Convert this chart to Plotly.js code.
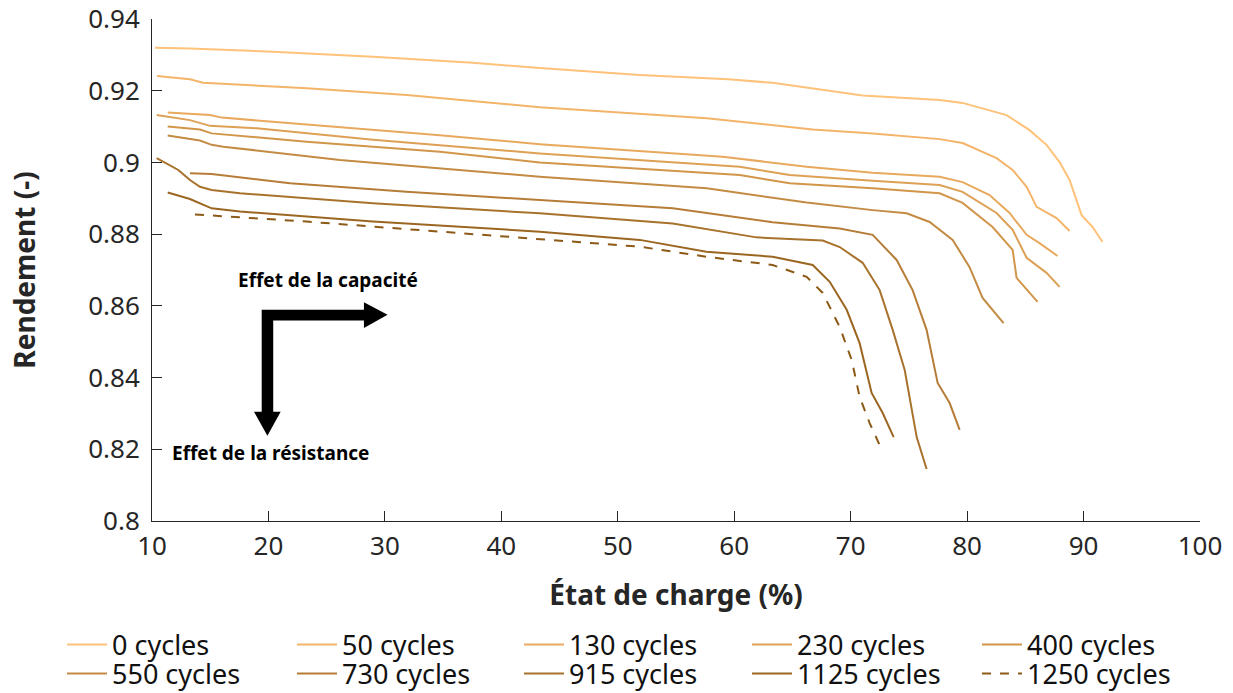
<!DOCTYPE html>
<html>
<head>
<meta charset="utf-8">
<script src="https://cdn.plot.ly/plotly-3.0.1.min.js"></script>
<style>
html,body{margin:0;padding:0;background:#fff;}
#chart{width:1233px;height:693px;}
</style>
</head>
<body>
<div id="chart"></div>
<script>
// Series names
var seriesNames = ["0 cycles","50 cycles","130 cycles","230 cycles","400 cycles","550 cycles","730 cycles","915 cycles","1125 cycles","1250 cycles"];
var seriesColors = ["#FFC27A","#F3B46A","#E8A95F","#DDA055","#D2964A","#C38B43","#B67D38","#A8722C","#9B6622","#8C5A16"];

// État de charge (%) / Rendement (-) per series
var soc_0   = [10.26,13.26,20.39,28.97,37.55,43.30,51.89,59.50,63.30,67.08,71.03,77.64,79.61,83.39,85.36,86.82,87.94,88.80,89.83,90.77,91.63];
var eff_0   = [0.9320,0.9318,0.9309,0.9295,0.9278,0.9263,0.9244,0.9232,0.9222,0.9204,0.9187,0.9174,0.9166,0.9132,0.9090,0.9049,0.9001,0.8951,0.8853,0.8820,0.8778];

var soc_50  = [10.43,13.26,14.38,14.98,23.30,31.89,43.30,57.64,66.74,71.89,77.64,79.61,82.53,83.91,85.11,85.97,87.68,88.80];
var eff_50  = [0.9241,0.9232,0.9222,0.9221,0.9207,0.9188,0.9154,0.9123,0.9092,0.9081,0.9065,0.9054,0.9012,0.8979,0.8932,0.8876,0.8845,0.8809];

var soc_130 = [11.35,14.98,15.98,26.14,34.72,43.30,59.01,66.22,71.89,77.64,79.61,81.93,83.65,85.11,86.22,87.77];
var eff_130 = [0.9139,0.9132,0.9125,0.9098,0.9076,0.9051,0.9016,0.8988,0.8971,0.8960,0.8945,0.8909,0.8859,0.8798,0.8775,0.8739];

var soc_230 = [10.40,13.26,14.98,18.99,28.97,43.30,60.47,64.76,71.89,77.64,79.61,82.53,83.91,85.11,86.82,87.94];
var eff_230 = [0.9132,0.9118,0.9102,0.9095,0.9063,0.9025,0.8988,0.8965,0.8949,0.8937,0.8918,0.8859,0.8812,0.8734,0.8692,0.8653];

var soc_400 = [11.35,14.12,15.12,23.28,34.72,43.30,60.47,64.76,71.89,77.64,79.61,82.19,83.91,84.25,86.05];
var eff_400 = [0.9100,0.9092,0.9081,0.9058,0.9030,0.9000,0.8965,0.8942,0.8928,0.8914,0.8887,0.8820,0.8756,0.8678,0.8611];

var soc_550 = [11.35,14.12,15.12,16.12,26.14,34.72,43.30,57.64,66.22,71.89,74.81,76.78,78.76,80.21,81.33,83.13];
var eff_550 = [0.9075,0.9061,0.9049,0.9044,0.9007,0.8984,0.8960,0.8928,0.8888,0.8867,0.8858,0.8834,0.8784,0.8708,0.8622,0.8552];

var soc_730 = [13.26,15.12,21.85,31.86,43.30,54.72,63.30,69.06,71.89,73.95,75.32,76.52,77.47,78.50,79.36];
var eff_730 = [0.8970,0.8968,0.8942,0.8918,0.8895,0.8872,0.8833,0.8816,0.8798,0.8728,0.8644,0.8533,0.8385,0.8329,0.8254];

var soc_915 = [10.40,12.26,13.26,14.12,15.12,17.55,28.97,43.30,54.72,61.91,67.60,69.06,71.03,72.49,73.61,74.64,75.67,76.52];
var eff_915 = [0.9012,0.8979,0.8951,0.8932,0.8923,0.8914,0.8886,0.8858,0.8830,0.8791,0.8782,0.8764,0.8720,0.8644,0.8533,0.8421,0.8234,0.8145];

var soc_1125 = [11.35,13.26,15.12,17.55,28.97,43.30,51.89,57.61,63.30,66.74,68.20,69.66,70.77,71.80,72.75,73.69];
var eff_1125 = [0.8916,0.8898,0.8872,0.8863,0.8835,0.8807,0.8784,0.8751,0.8737,0.8714,0.8667,0.8589,0.8496,0.8357,0.8301,0.8234];

var soc_1250 = [13.69,23.28,34.72,43.30,51.89,57.61,63.30,66.22,67.60,69.06,70.09,70.77,71.63,72.75];
var eff_1250 = [0.8855,0.8835,0.8807,0.8786,0.8765,0.8737,0.8714,0.8681,0.8636,0.8541,0.8449,0.8346,0.8273,0.8193];

var xTickVals = [10,20,30,40,50,60,70,80,90,100];
var yTickVals = [0.8,0.82,0.84,0.86,0.88,0.9,0.92,0.94];
var yTickText = ["0.8","0.82","0.84","0.86","0.88","0.9","0.92","0.94"];

var xs = [soc_0,soc_50,soc_130,soc_230,soc_400,soc_550,soc_730,soc_915,soc_1125,soc_1250];
var ys = [eff_0,eff_50,eff_130,eff_230,eff_400,eff_550,eff_730,eff_915,eff_1125,eff_1250];

var FONT = "'Noto Sans', 'Open Sans', sans-serif";
var legendIds = seriesNames.map(function(n,i){ return i === 0 ? 'legend' : 'legend' + (i+1); });

var traces = seriesNames.map(function(n,i){
  return {
    x: xs[i], y: ys[i], name: n, type: 'scatter', mode: 'lines',
    legend: legendIds[i],
    line: {color: seriesColors[i], width: 2, dash: i === 9 ? 'dash' : 'solid'}
  };
});

// legend grid: 5 columns x 2 rows (pixel positions in the page)
var legendColPx = [62, 292, 519, 747, 977];
var legendRowPx = [645, 674];

var layout = {
  width: 1233, height: 693,
  margin: {l:152, r:33, t:19, b:172},
  paper_bgcolor: '#fff', plot_bgcolor: '#fff',
  font: {family: FONT, size: 26, color: '#262626'},
  showlegend: true,
  xaxis: {
    range: [10, 100], tickmode: 'array', tickvals: xTickVals,
    ticks: 'inside', ticklen: 10, tickcolor: '#262626', tickwidth: 1,
    showline: true, linecolor: '#262626', linewidth: 1, mirror: false,
    showgrid: false, zeroline: false,
    ticklabelstandoff: 2,
    tickfont: {family: FONT, size: 26, color: '#262626'},
    title: {text: 'État de charge (%)', font: {family: FONT, size: 28, color: '#262626', weight: 'bold'}, standoff: 23}
  },
  yaxis: {
    range: [0.8, 0.94], tickmode: 'array', tickvals: yTickVals, ticktext: yTickText,
    ticks: 'inside', ticklen: 10, tickcolor: '#262626', tickwidth: 1,
    showline: true, linecolor: '#262626', linewidth: 1, mirror: false,
    showgrid: false, zeroline: false,
    ticklabelstandoff: 6,
    tickfont: {family: FONT, size: 26, color: '#262626'},
    title: {text: 'Rendement (-)', font: {family: FONT, size: 28, color: '#262626', weight: 'bold'}, standoff: 44}
  },
  shapes: [{
    type: 'path', xref: 'x', yref: 'y',
    path: 'M 19.42 0.8589 L 28.2 0.8589 L 28.2 0.8610 L 30.23 0.8575 L 28.2 0.8538 L 28.2 0.8559 L 20.41 0.8559 L 20.41 0.8305 L 21.05 0.8305 L 19.91 0.8238 L 18.76 0.8305 L 19.42 0.8305 Z',
    fillcolor: '#000', line: {color: '#000', width: 0}
  }],
  annotations: [
    {xref:'x', yref:'y', x: 25.15, y: 0.8672, text: '<b>Effet de la capacité</b>', showarrow: false,
     font: {family: FONT, size: 19, color: '#000'}},
    {xref:'x', yref:'y', x: 20.17, y: 0.8190, text: '<b>Effet de la résistance</b>', showarrow: false,
     font: {family: FONT, size: 19, color: '#000'}}
  ]
};

legendIds.forEach(function(id, i){
  var col = i % 5, row = Math.floor(i / 5);
  layout[id] = {
    orientation: 'h', xref: 'container', yref: 'container',
    x: legendColPx[col] / 1233, y: 1 - legendRowPx[row] / 693,
    xanchor: 'left', yanchor: 'middle',
    itemwidth: 40, borderwidth: 0,
    font: {family: FONT, size: 27, color: '#111'},
    bgcolor: 'rgba(0,0,0,0)'
  };
});

Plotly.newPlot('chart', traces, layout, {displayModeBar: false, staticPlot: true});
</script>
</body>
</html>
